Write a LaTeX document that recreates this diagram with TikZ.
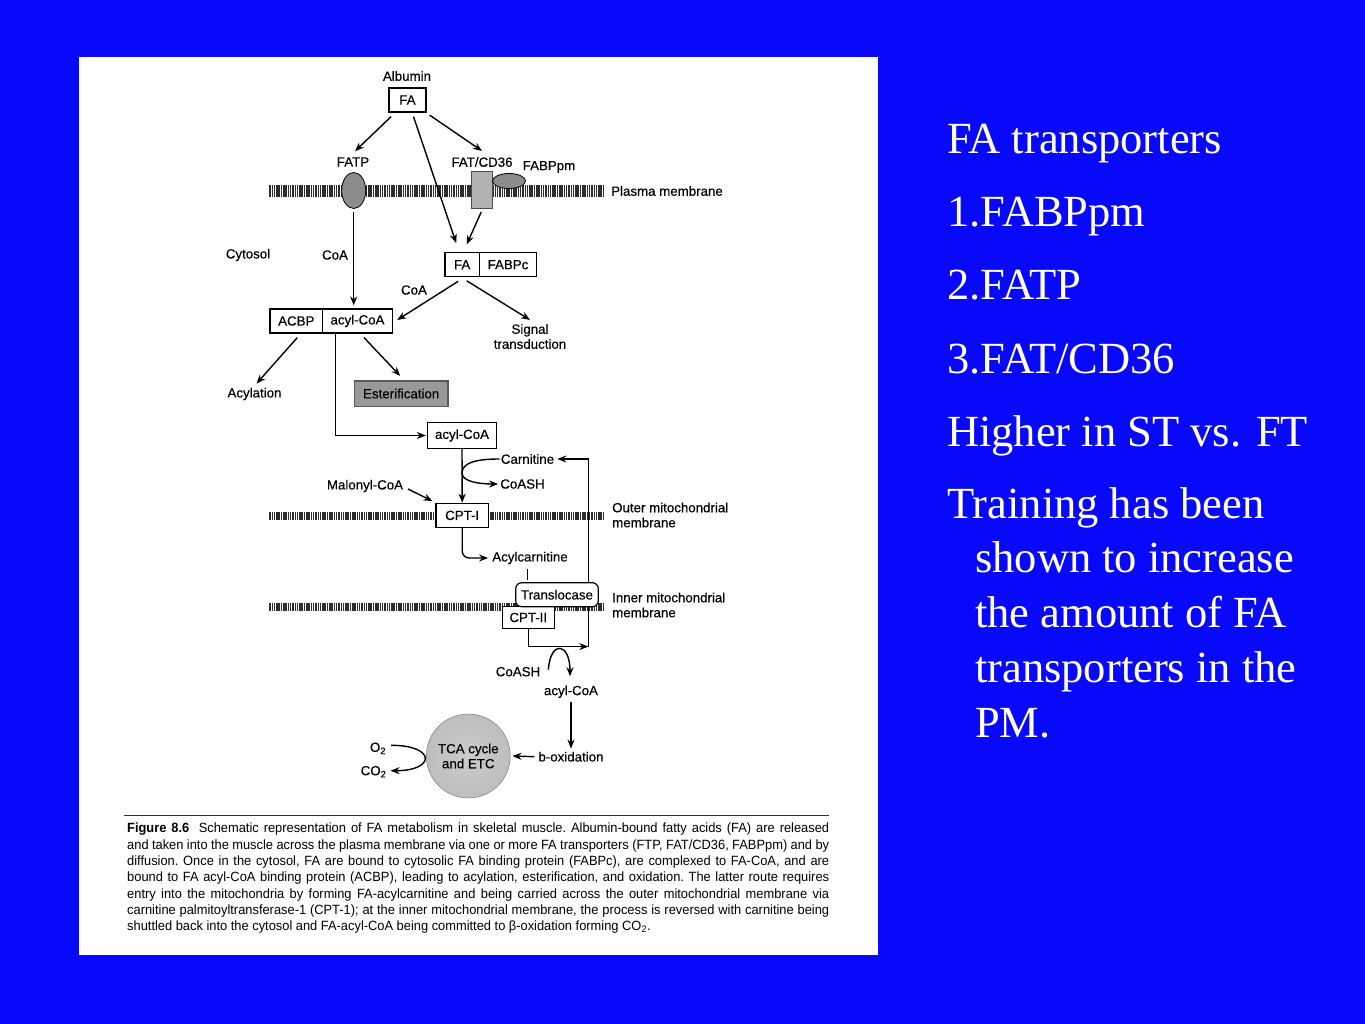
\documentclass[tikz,border=0pt]{standalone}
\usepackage{fontspec}
\setmainfont{Liberation Serif}
\newfontfamily\diafont{Liberation Sans}[FakeBold=0.3]
\newfontfamily\capfont{Liberation Sans}[FakeStretch=0.96]
\usetikzlibrary{shapes.geometric, arrows.meta, calc}

\definecolor{slideblue}{RGB}{8, 8, 250}
\definecolor{membgray}{RGB}{45, 45, 45}
\pgfdeclareradialshading{tcashade}{\pgfpoint{0bp}{0bp}}{color(0bp)=(black!20); color(30bp)=(black!27); color(43bp)=(black!42); color(50bp)=(black!62)}

% hatched membrane band: centre y, half thickness
\newcommand{\membrane}[2]{%
  \foreach \mx in {270,272.3,...,605} \draw[membgray, line width=1.5pt] (\mx,#1-#2) -- (\mx,#1+#2);}

\begin{document}
\begin{tikzpicture}[x=1pt, y=-1pt,
  lbl/.style={font=\diafont\fontsize{13.3}{15}\selectfont, inner sep=1pt},
  boxnode/.style={lbl, draw, line width=1.2pt, minimum height=24, inner sep=0pt},
  arr/.style={-{Stealth[length=9pt,width=7pt]}, line width=1.4pt},
  bigtxt/.style={font=\fontsize{44.5}{50}\selectfont, text=white, anchor=base west, inner sep=0pt}]

  \useasboundingbox (0,0) rectangle (1365,1024);
  \fill[slideblue] (0,0) rectangle (1365,1024);
  \fill[white] (79,57) rectangle (878,955);

  % Membranes
  \membrane{191}{5.8}
  \membrane{516}{4.2}
  \membrane{606.7}{4}

  % Uptake
  \node[lbl] (albumin) at (407,76) {Albumin};
  \node[boxnode, minimum width=37] (fa) at (407.5,100) {FA};
  \node[lbl] (fatplab) at (353,162) {FATP};
  \node[lbl] (fatcdlab) at (482,162) {FAT/CD36};
  \node[lbl] (fabpmlab) at (549,167) {FABPpm};
  \node[ellipse, draw, line width=0.8pt, fill=black!45, minimum width=24, minimum height=36, inner sep=0pt] (fatp) at (353.7,190.5) {};
  \node[draw=black!70, line width=0.8pt, fill=black!30, minimum width=21, minimum height=37, inner sep=0pt] (fat) at (482.2,189.7) {};
  \node[ellipse, draw, line width=0.8pt, fill=black!45, minimum width=33, minimum height=15, inner sep=0pt] (fabpm) at (509,181) {};
  \node[lbl, anchor=west] (plasmalab) at (610,191) {Plasma membrane};

  % Cytosol
  \node[lbl] (cytosol) at (248,255) {Cytosol};
  \node[lbl] (coaone) at (335,255) {CoA};
  \node[boxnode, minimum width=34.3] (fatwo) at (462.2,264.7) {FA};
  \node[boxnode, minimum width=57.4] (fabpc) at (508,264.7) {FABPc};
  \node[lbl] (coatwo) at (414,290) {CoA};
  \node[boxnode, minimum width=52.7] (acbp) at (296.3,321) {ACBP};
  \node[boxnode, minimum width=69.6] (acylcoa) at (357.5,321) {acyl-CoA};
  \node[lbl, align=center] (signal) at (530,336.5) {Signal\\transduction};
  \node[lbl] (acylation) at (254.5,394) {Acylation};
  \node[boxnode, fill=black!40, draw=black!65, line width=1.6pt, minimum width=93.7, minimum height=25.8] (ester) at (401.2,393.6) {Esterification};
  \node[boxnode, minimum width=69, minimum height=25.6] (acylcoatwo) at (462,435.5) {acyl-CoA};

  % Mitochondrion
  \node[lbl] (carnitine) at (527.5,459) {Carnitine};
  \node[lbl] (coashone) at (522.5,484) {CoASH};
  \node[lbl] (malonyl) at (365,486) {Malonyl-CoA};
  \node[boxnode, fill=white, minimum width=52.3, minimum height=24.2] (cpti) at (462.2,515.4) {CPT-I};
  \node[lbl, anchor=west, align=left] (outerlab) at (611,515) {Outer mitochondrial\\membrane};
  \node[lbl] (acylcarn) at (530,558) {Acylcarnitine};
  \node[boxnode, fill=white, minimum width=52, minimum height=22] (cptii) at (528.3,617.5) {CPT-II};
  \node[lbl, anchor=west, align=left] (innerlab) at (611,605) {Inner mitochondrial\\membrane};
  \node[lbl] (coashtwo) at (518,671.7) {CoASH};
  \node[lbl] (acylcoathree) at (571,691.7) {acyl-CoA};
  \node[lbl] (betaox) at (571,756.7) {b-oxidation};
  \node[circle, lbl, shading=tcashade, draw=black!55, minimum size=84, align=center] (tca) at (468.3,756) {TCA cycle\\and ETC};
  \node[lbl] (otwo) at (378,748.3) {O\textsubscript{2}};
  \node[lbl] (cotwo) at (373.5,771.7) {CO\textsubscript{2}};

  % Arrows
  \draw[arr] ($(fa.south west)+(2.7,4)$) -- ($(fatplab.north)+(2,-5)$);
  \draw[arr] ($(fa.south)+(6,4)$) -- ($(fatwo.north)+(-6,-9)$);
  \draw[arr] ($(fa.south east)+(3,2.5)$) -- ($(fatcdlab.north)+(0,-5)$);
  \draw[arr] ($(fatp.south)+(0,3)$) -- ($(fatp.south |- acylcoa.north)+(0,-3)$);
  \draw[arr] ($(fat.south)+(-1,3.5)$) -- ($(fatwo.north)+(4.5,-7.7)$);
  \draw[arr] ($(fatwo.south)+(-4,4)$) -- ($(acylcoa.east)+(4.3,-1)$);
  \draw[arr] ($(fatwo.south)+(4.5,3.5)$) -- ($(signal.north)+(0,-3)$);
  \draw[arr] ($(acbp.south)+(1,4)$) -- ($(acylation.north)+(2,-3)$);
  \draw[arr] ($(acylcoa.south)+(6.5,4)$) -- ($(ester.north)+(-1,-4)$);
  \draw[arr] ($(acylcoa.south west)+(13.3,0)$) |- ($(acylcoatwo.west)+(-1,0)$);
  \draw[arr] (acylcoatwo.south) -- (cpti.north);

  \coordinate (cjoin) at ($(acylcoatwo.south)!0.45!(cpti.north)$);
  \draw[line width=1.4pt] (carnitine.west) .. controls ($(carnitine.west)+(-25,0)$) and ($(cjoin)+(0,-10)$) .. (cjoin);
  \draw[arr] (cjoin) .. controls ($(cjoin)+(0,9)$) and ($(coashone.west)+(-18,0)$) .. ($(coashone.west)+(-1,0)$);

  \draw[arr] ($(malonyl.east)+(3.7,3)$) -- ($(cpti.north west)+(-3,-1.6)$);
  \draw[arr, rounded corners=7pt] (cpti.south) |- ($(acylcarn.west)+(-3,0)$);

  \coordinate (retbot) at ($(cptii.south)+(60,17.5)$);
  \draw[arr] (cptii.south) |- (retbot);
  \draw[arr] (retbot) |- ($(carnitine.east)+(2,0)$);

  \node[boxnode, fill=white, rounded corners=6pt, minimum width=82.6, minimum height=24] (transloc) at (557,594.7) {Translocase};
  \coordinate (tlink) at ($(acylcarn.south)+(-2.7,4)$);
  \draw[line width=1.4pt, shorten >=2pt] (tlink) -- (tlink |- transloc.north);

  \coordinate (csa) at ($(coashtwo.east)+(7,-2)$);
  \coordinate (csb) at ($(acylcoathree.north)+(-1,-8)$);
  \draw[arr] (csa) .. controls ($(csa)+(2,-30)$) and ($(csb)+(0,-34)$) .. (csb);
  \draw[arr] ($(acylcoathree.south)+(0,3)$) -- ($(betaox.north)+(0,-2)$);
  \draw[arr] ($(betaox.west)+(-3,0)$) -- ($(tca.east)+(2,0)$);

  \coordinate (oa) at ($(otwo.east)+(4,-3)$);
  \coordinate (ob) at ($(cotwo.east)+(3,-1)$);
  \draw[arr] (oa) .. controls ($(oa)+(45,0)$) and ($(ob)+(45,0)$) .. (ob);

  % Caption
  \draw[line width=1.3pt, black!80] (124,815.5) -- (829,815.5);
  \node[anchor=north west, inner sep=0pt, text width=702, align=justify, font=\capfont\fontsize{13.4}{16.3}\selectfont\frenchspacing] (caption) at (127,823) {%
    \textbf{Figure 8.6}\hspace{0.7em}Schematic representation of FA metabolism in skeletal muscle. Albumin-bound fatty acids (FA) are released\linebreak
    and taken into the muscle across the plasma membrane via one or more FA transporters (FTP, FAT/CD36, FABPpm) and by\linebreak
    diffusion. Once in the cytosol, FA are bound to cytosolic FA binding protein (FABPc), are complexed to FA-CoA, and are\linebreak
    bound to FA acyl-CoA binding protein (ACBP), leading to acylation, esterification, and oxidation. The latter route requires\linebreak
    entry into the mitochondria by forming FA-acylcarnitine and being carried across the outer mitochondrial membrane via\linebreak
    carnitine palmitoyltransferase-1 (CPT-1); at the inner mitochondrial membrane, the process is reversed with carnitine being\linebreak
    shuttled back into the cytosol and FA-acyl-CoA being committed to β-oxidation forming CO\textsubscript{2}.};

  % Slide text
  \node[bigtxt] (tone) at (947,154) {FA transporters};
  \node[bigtxt] (ttwo) at (947,227) {1.FABPpm};
  \node[bigtxt] (tthree) at (947,300) {2.FATP};
  \node[bigtxt] (tfour) at (947,373) {3.FAT/CD36};
  \node[bigtxt] (tfive) at (947,446) {Higher in ST vs. FT};
  \node[bigtxt] (tsix) at (947,518.5) {Training has been};
  \node[bigtxt] (tseven) at (975,572) {shown to increase};
  \node[bigtxt] (teight) at (975,627) {the amount of FA};
  \node[bigtxt] (tnine) at (975,682) {transporters in the};
  \node[bigtxt] (tten) at (975,737) {PM.};
\end{tikzpicture}
\end{document}
